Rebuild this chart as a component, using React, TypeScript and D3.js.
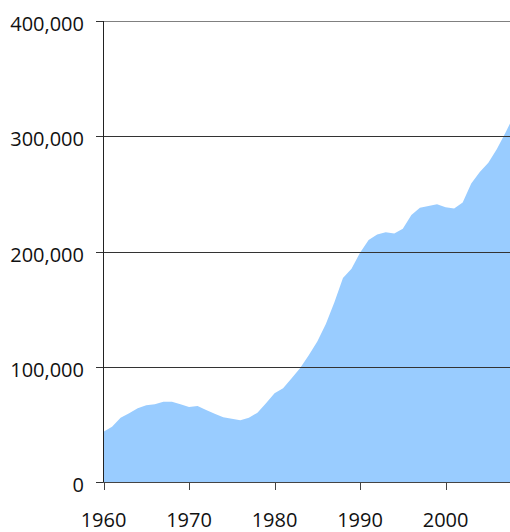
import React from "react";
import * as d3 from "d3";

const years: number[] = d3.range(1960, 2009);
const values: number[] = [
  43600, 48000, 55800, 59600, 63900, 66500, 67400, 69600, 69600, 67400,
  65000, 65900, 62400, 59200, 56100, 54900, 53500, 55800, 60100, 68300,
  76900, 81300, 90000, 99000, 110000, 122000, 137000, 156000, 177000, 185000,
  199000, 210000, 214800, 216800, 215700, 219700, 231600, 237900, 239500, 241000,
  238500, 237400, 242600, 259000, 269000, 277000, 289000, 303000, 318000,
];
const yTicks: number[] = [0, 100000, 200000, 300000, 400000];
const xTicks: number[] = [1960, 1970, 1980, 1990, 2000];

const W = 510;
const H = 532;
const FONT = "'Open Sans', sans-serif";

export default function App() {
  const x = d3.scaleLinear().domain([1960, 2008]).range([103.5, 514]);
  const y = d3.scaleLinear().domain([0, 400000]).range([482, 21]);
  const fmt = d3.format(",");
  const data = years.map((yr, i) => ({ yr, v: values[i] }));
  const area = d3
    .area<{ yr: number; v: number }>()
    .x((d) => x(d.yr))
    .y0(y(0))
    .y1((d) => y(d.v));

  return (
    <svg
      width={W}
      height={H}
      style={{ position: "absolute", left: 0, top: 0, background: "#fff" }}
    >
      <path d={area(data) || ""} fill="#99CCFF" />
      {yTicks.map((t) => (
        <g key={t}>
          {t > 0 && (
            <line
              x1={103.5}
              x2={W}
              y1={Math.round(y(t)) + 0.5}
              y2={Math.round(y(t)) + 0.5}
              stroke={t === 400000 ? "#808080" : "#333"}
              strokeWidth={1}
            />
          )}
          <line
            x1={96}
            x2={103.5}
            y1={Math.round(y(t)) + 0.5}
            y2={Math.round(y(t)) + 0.5}
            stroke="#333"
          />
          <text
            x={84}
            y={y(t) + 10}
            textAnchor="end"
            fontFamily={FONT}
            fontSize={20}
            fill="#111"
          >
            {fmt(t)}
          </text>
        </g>
      ))}
      <line x1={103.5} x2={103.5} y1={21} y2={482.5} stroke="#222" />
      <line x1={103.5} x2={W} y1={482.5} y2={482.5} stroke="#444" />
      {xTicks.map((t) => (
        <g key={t}>
          <line
            x1={Math.round(x(t)) + 0.5}
            x2={Math.round(x(t)) + 0.5}
            y1={482}
            y2={490}
            stroke="#444"
          />
          <text
            x={x(t)}
            y={527}
            textAnchor="middle"
            fontFamily={FONT}
            fontSize={20}
            fill="#111"
          >
            {t}
          </text>
        </g>
      ))}
    </svg>
  );
}
